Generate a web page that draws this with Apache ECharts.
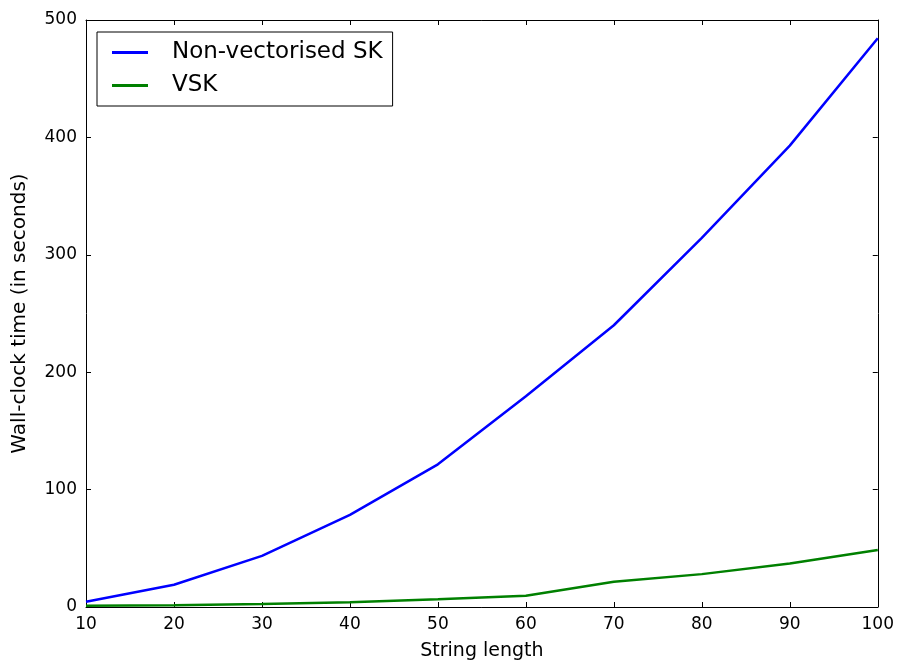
<!DOCTYPE html>
<html>
<head>
<meta charset="utf-8">
<script src="https://cdn.jsdelivr.net/npm/echarts@6/dist/echarts.min.js"></script>
<style>
html,body{margin:0;padding:0;background:#fff;}
#c{width:897px;height:666px;}
</style>
</head>
<body>
<div id="c"></div>
<script>
const stringLength = [10, 20, 30, 40, 50, 60, 70, 80, 90, 100];
const nonVectorisedSK = [4.5, 19, 43.5, 78.5, 121.5, 179.5, 240, 314.5, 393, 484.5];
const VSK = [1, 1.5, 2.5, 4, 6.5, 9.6, 21.5, 28, 37, 48.5];
const seriesNames = ['Non-vectorised SK', 'VSK'];
const xTicks = {min: 10, max: 100, interval: 10};
const yTicks = {min: 0, max: 500, interval: 100};

const font = 'DejaVu Sans';
const chart = echarts.init(document.getElementById('c'), null, {renderer: 'canvas'});

const axisCommon = {
  axisLine: {show: true, onZero: false, lineStyle: {color: '#000', width: 1}},
  axisTick: {show: true, inside: true, length: 5, lineStyle: {color: '#000', width: 1}},
  splitLine: {show: false}
};

chart.setOption({
  animation: false,
  backgroundColor: '#fff',
  grid: {left: 86, right: 19, top: 20, bottom: 57, containLabel: false},
  legend: {
    orient: 'vertical',
    left: 97, top: 32,
    borderColor: '#000', borderWidth: 1,
    padding: [7, 10, 7, 15],
    itemGap: 6,
    itemWidth: 36, itemHeight: 3,
    textStyle: {fontFamily: font, fontSize: 23, color: '#000', lineHeight: 27, padding: [0, 0, 0, 19]},
    data: [
      {name: seriesNames[0], icon: 'rect'},
      {name: seriesNames[1], icon: 'rect'}
    ]
  },
  xAxis: [
    Object.assign({
      type: 'value', position: 'bottom',
      min: xTicks.min, max: xTicks.max, interval: xTicks.interval,
      name: 'String length', nameLocation: 'middle', nameGap: 35,
      nameTextStyle: {fontFamily: font, fontSize: 19, color: '#000'},
      axisLabel: {fontFamily: font, fontSize: 17, color: '#000', margin: 9}
    }, axisCommon),
    Object.assign({
      type: 'value', position: 'top',
      min: xTicks.min, max: xTicks.max, interval: xTicks.interval,
      axisLabel: {show: false}
    }, axisCommon)
  ],
  yAxis: [
    Object.assign({
      type: 'value', position: 'left',
      min: yTicks.min, max: yTicks.max, interval: yTicks.interval,
      name: 'Wall-clock time (in seconds)', nameLocation: 'middle', nameGap: 56,
      nameTextStyle: {fontFamily: font, fontSize: 20, color: '#000'},
      axisLabel: {fontFamily: font, fontSize: 17, color: '#000', margin: 9}
    }, axisCommon),
    Object.assign({
      type: 'value', position: 'right',
      min: yTicks.min, max: yTicks.max, interval: yTicks.interval,
      axisLabel: {show: false}
    }, axisCommon)
  ],
  series: [
    {
      name: seriesNames[0], type: 'line', symbol: 'none', xAxisIndex: 0, yAxisIndex: 0,
      data: stringLength.map((x, i) => [x, nonVectorisedSK[i]]),
      itemStyle: {color: '#0000ff'},
      lineStyle: {color: '#0000ff', width: 2.5}
    },
    {
      name: seriesNames[1], type: 'line', symbol: 'none', xAxisIndex: 0, yAxisIndex: 0,
      data: stringLength.map((x, i) => [x, VSK[i]]),
      itemStyle: {color: '#008000'},
      lineStyle: {color: '#008000', width: 2.5}
    }
  ]
});
</script>
</body>
</html>
